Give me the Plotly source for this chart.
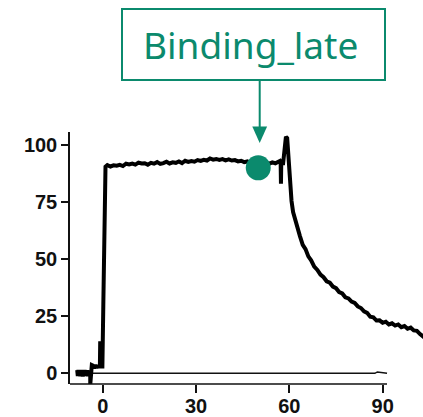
import plotly.graph_objects as go

# ---------------- data ----------------
time_s = [
    -8.2, -8.0, -7.8, -7.6, -7.4, -7.2, -7.0, -6.8, -6.6, -6.4, -6.2, -6.0, -5.8, -5.6,
    -5.4, -5.2, -5.0, -4.8, -4.6, -4.4, -4.2, -4.0, -4.0, -3.8,
    -3.5, -3.2, -2.8, -2.4, -2.0, -1.6, -1.2, -0.9, -0.8, -0.3, -0.1, 0.2, 0.4, 0.6, 0.9,
    1.5, 2.5, 3.5, 4.5, 5.5, 6.5, 7.5, 8.5, 9.5, 10.5, 11.5, 12.5, 13.5, 14.5, 15.5,
    16.5, 17.5, 18.5, 19.5, 20.5, 21.5, 22.5, 23.5, 24.5, 25.5, 26.5, 27.5, 28.5, 29.5,
    30.5, 31.5, 32.5, 33.5, 34.5, 35.5, 36.5, 37.5, 38.5, 39.5, 40.5, 41.5, 42.5, 43.5,
    44.5, 45.5, 46.5, 47.5, 48.5, 49.5, 50.5, 51.5, 52.5, 53.5, 54.5, 55.5, 56.5,
    57.0, 57.2, 57.3, 57.4, 58.0, 58.5, 58.9, 59.3, 59.7,
    60.2, 60.7, 61.2, 61.8, 62.5, 63.4, 64.3, 65.2, 66.1, 67.0, 68.0, 69.0, 70.0, 71.0,
    72.0, 73.0, 74.0, 75.0, 76.0, 77.0, 78.0, 79.0, 80.0, 81.0, 82.0, 83.0, 84.0, 85.0,
    86.0, 87.0, 88.0, 89.0, 90.0, 91.0, 92.0, 93.0, 94.0, 95.0, 96.0, 97.0, 98.0, 99.0,
    100.0, 101.0, 102.0, 103.0, 103.5,
]
response = [
    1.4, -1.2, 1.5, -1.0, 1.3, -1.3, 1.5, -1.1, 1.2, -1.4, 1.4, -1.0, 1.5, -1.2,
    1.3, -1.1, 1.4, -1.3, 1.2, -1.0, 1.1, 0.0, -5.0, -1.1,
    3.6, 3.4, 2.2, 3.6, 2.4, 3.5, 2.6, 3.4, 14.0, 3.0, 3.0, 30.0, 60.0, 85.0, 90.5,
    91.2, 90.6, 91.1, 90.9, 91.3, 90.8, 91.8, 91.5, 91.9, 91.4, 92.3, 91.9, 92.0, 91.4, 92.2,
    91.8, 92.5, 91.7, 92.1, 92.7, 91.9, 92.4, 92.2, 92.8, 92.1, 93.1, 92.6, 93.0, 92.7,
    93.4, 93.0, 93.5, 93.2, 94.1, 93.6, 93.9, 93.5, 93.8, 93.3, 93.7, 93.2, 93.4, 92.8,
    93.1, 92.5, 92.8, 92.1, 92.4, 91.8, 92.2, 91.7, 92.3, 91.8, 92.4, 92.0, 92.6,
    93.0, 92.5, 83.0, 92.0, 92.0, 98.0, 103.6, 103.0, 95.0,
    82.0, 75.5, 70.6, 67.4, 63.2, 60.1, 56.3, 54.4, 51.2, 49.5, 46.7, 45.3, 43.2, 42.1,
    40.3, 39.7, 38.0, 37.3, 35.6, 35.0, 33.3, 32.8, 31.4, 30.8, 29.3, 28.6, 27.1, 26.5,
    24.8, 24.5, 23.1, 23.2, 22.1, 22.6, 21.4, 21.9, 20.9, 21.4, 20.2, 20.7, 19.5, 20.0,
    18.8, 18.6, 17.2, 16.3, 15.6,
]

baseline_time = [-8.2, 87.5, 88.3, 89.2, 90.0, 91.4]
baseline_resp = [0.0, 0.0, 0.6, 0.4, 0.5, 0.0]

marker_label = "Binding_late"
marker_time = [50.0]
marker_resp = [90.0]

x_ticks = [0, 30, 60, 90]
y_ticks = [0, 25, 50, 75, 100]

# ---------------- layout geometry ----------------
W, H = 423, 417
L, R, T, B = 70, 0, 132, 33
GREEN = "#0b8a6d"
INK = "#111111"

def px(xp):
    return (xp - L) / (W - L - R)

def py(yp):
    return (H - B - yp) / (H - T - B)

fig = go.Figure()
fig.add_trace(go.Scatter(x=baseline_time, y=baseline_resp, mode="lines",
                         line=dict(color=INK, width=1.5), hoverinfo="skip"))
fig.add_trace(go.Scatter(x=time_s, y=response, mode="lines",
                         line=dict(color="#000000", width=4), hoverinfo="skip"))
fig.add_trace(go.Scatter(x=marker_time, y=marker_resp, mode="markers",
                         marker=dict(color=GREEN, size=25), cliponaxis=False,
                         hoverinfo="skip"))

shapes = [
    # bottom spine (ends at ~91)
    dict(type="line", xref="x", yref="paper", x0=-10.51, x1=91.4, y0=0, y1=0,
         line=dict(color=INK, width=1.5)),
    # annotation box
    dict(type="rect", xref="paper", yref="paper",
         x0=px(122), x1=px(385), y0=py(80), y1=py(9),
         line=dict(color=GREEN, width=2), fillcolor="white"),
    # arrow shaft
    dict(type="line", xref="paper", yref="paper",
         x0=px(259.7), x1=px(259.7), y0=py(80), y1=py(130),
         line=dict(color=GREEN, width=2)),
    # arrow head
    dict(type="path", xref="paper", yref="paper",
         path=f"M {px(252.3)},{py(126.5)} L {px(267.1)},{py(126.5)} L {px(259.7)},{py(143)} Z",
         fillcolor=GREEN, line=dict(color=GREEN, width=0)),
]

fig.add_annotation(xref="paper", yref="paper", x=px(251), y=py(45),
                   text=marker_label, showarrow=False,
                   font=dict(family="Noto Sans", size=37, color=GREEN),
                   xanchor="center", yanchor="middle")

fig.update_layout(
    width=W, height=H,
    margin=dict(l=L, r=R, t=T, b=B, pad=0, autoexpand=False),
    paper_bgcolor="white", plot_bgcolor="white",
    showlegend=False, shapes=shapes,
    xaxis=dict(range=[-10.51, 102.96], tickvals=x_ticks, showgrid=False, zeroline=False,
               automargin=False, ticklabelstandoff=-4,
               showline=False, ticks="outside", ticklen=8, tickwidth=1.5, tickcolor=INK,
               tickfont=dict(family="Liberation Sans", size=20, color=INK, weight="bold")),
    yaxis=dict(range=[-4.69, 105.7], tickvals=y_ticks, showgrid=False, zeroline=False,
               automargin=False,
               showline=True, linecolor=INK, linewidth=1.5,
               ticks="outside", ticklen=7, tickwidth=1.5, tickcolor=INK,
               tickfont=dict(family="Liberation Sans", size=20, color=INK, weight="bold")),
)

fig.write_html("out.html", config={"displayModeBar": False},
               post_script="document.body.style.margin='0';document.body.style.overflow='hidden';")
